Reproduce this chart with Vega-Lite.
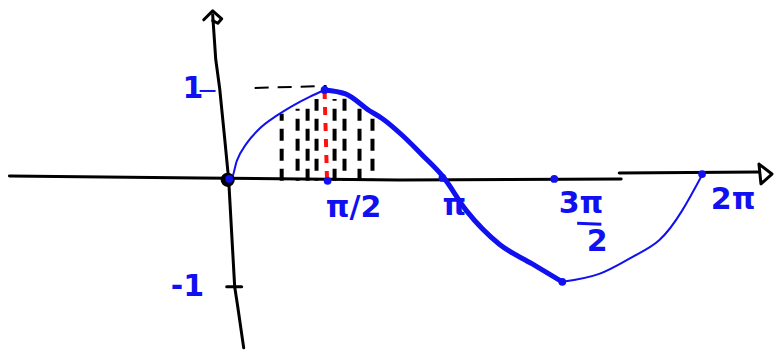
{
  "$schema": "https://vega.github.io/schema/vega-lite/v6.json",
  "width": 774,
  "height": 350,
  "autosize": {"type": "fit", "contains": "padding"},
  "padding": 0,
  "background": "white",
  "config": {"view": {"stroke": null}},
  "datasets": {
    "curve": [
      {"seg": "rise", "i": 0, "x": 0.0, "y": 0.0},
      {"seg": "rise", "i": 1, "x": 0.053, "y": 0.011},
      {"seg": "rise", "i": 2, "x": 0.119, "y": 0.202},
      {"seg": "rise", "i": 3, "x": 0.25, "y": 0.404},
      {"seg": "rise", "i": 4, "x": 0.422, "y": 0.573},
      {"seg": "rise", "i": 5, "x": 0.646, "y": 0.719},
      {"seg": "rise", "i": 6, "x": 0.856, "y": 0.831},
      {"seg": "rise", "i": 7, "x": 1.08, "y": 0.933},
      {"seg": "rise", "i": 8, "x": 1.278, "y": 1.011},
      {"seg": "fall", "i": 0, "x": 1.278, "y": 1.011},
      {"seg": "fall", "i": 1, "x": 1.555, "y": 0.966},
      {"seg": "fall", "i": 2, "x": 1.871, "y": 0.775},
      {"seg": "fall", "i": 3, "x": 2.042, "y": 0.685},
      {"seg": "fall", "i": 4, "x": 2.306, "y": 0.494},
      {"seg": "fall", "i": 5, "x": 2.569, "y": 0.27},
      {"seg": "fall", "i": 6, "x": 2.833, "y": 0.034},
      {"seg": "fall", "i": 7, "x": 3.149, "y": -0.36},
      {"seg": "fall", "i": 8, "x": 3.584, "y": -0.742},
      {"seg": "fall", "i": 9, "x": 4.018, "y": -0.966},
      {"seg": "fall", "i": 10, "x": 4.414, "y": -1.169},
      {"seg": "return", "i": 0, "x": 4.414, "y": -1.169},
      {"seg": "return", "i": 1, "x": 4.901, "y": -1.079},
      {"seg": "return", "i": 2, "x": 5.336, "y": -0.888},
      {"seg": "return", "i": 3, "x": 5.692, "y": -0.697},
      {"seg": "return", "i": 4, "x": 5.995, "y": -0.36},
      {"seg": "return", "i": 5, "x": 6.258, "y": 0.045}
    ],
    "axes": [
      {"part": "xaxis1", "i": 0, "x": -2.88, "y": 0.034},
      {"part": "xaxis1", "i": 1, "x": -0.369, "y": 0.011},
      {"part": "xaxis1", "i": 2, "x": 2.266, "y": -0.011},
      {"part": "xaxis1", "i": 3, "x": 5.191, "y": 0.0},
      {"part": "xaxis2", "i": 0, "x": 5.165, "y": 0.067},
      {"part": "xaxis2", "i": 1, "x": 7.009, "y": 0.079},
      {"part": "xarrow", "i": 0, "x": 7.009, "y": 0.169},
      {"part": "xarrow", "i": 1, "x": 7.18, "y": 0.056},
      {"part": "xarrow", "i": 2, "x": 7.035, "y": -0.056},
      {"part": "xarrow", "i": 3, "x": 7.009, "y": 0.169},
      {"part": "yaxis", "i": 0, "x": -0.198, "y": 1.865},
      {"part": "yaxis", "i": 1, "x": -0.158, "y": 1.36},
      {"part": "yaxis", "i": 2, "x": -0.105, "y": 1.022},
      {"part": "yaxis", "i": 3, "x": -0.04, "y": 0.461},
      {"part": "yaxis", "i": 4, "x": 0.013, "y": -0.011},
      {"part": "yaxis", "i": 5, "x": 0.092, "y": -1.225},
      {"part": "yaxis", "i": 6, "x": 0.132, "y": -1.449},
      {"part": "yaxis", "i": 7, "x": 0.211, "y": -1.92},
      {"part": "yarrow", "i": 0, "x": -0.316, "y": 1.809},
      {"part": "yarrow", "i": 1, "x": -0.198, "y": 1.91},
      {"part": "yarrow", "i": 2, "x": -0.079, "y": 1.82},
      {"part": "yarrow", "i": 3, "x": -0.13, "y": 1.77},
      {"part": "yarrow", "i": 4, "x": -0.198, "y": 1.8},
      {"part": "tickm1", "i": 0, "x": -0.013, "y": -1.225},
      {"part": "tickm1", "i": 1, "x": 0.184, "y": -1.225}
    ],
    "guide": [
      {"i": 0, "x": 0.356, "y": 1.034},
      {"i": 1, "x": 1.304, "y": 1.056}
    ],
    "redline": [
      {"i": 0, "x": 1.278, "y": 1.0},
      {"i": 1, "x": 1.31, "y": 0.0}
    ],
    "hatch": [
      {"col": "a", "x": 0.712, "y": -0.02, "top": 0.742},
      {"col": "b", "x": 0.922, "y": -0.02, "top": 0.798},
      {"col": "a", "x": 1.054, "y": -0.02, "top": 0.854},
      {"col": "b", "x": 1.172, "y": -0.02, "top": 0.91},
      {"col": "a", "x": 1.41, "y": -0.02, "top": 0.91},
      {"col": "b", "x": 1.541, "y": -0.02, "top": 0.966},
      {"col": "a", "x": 1.739, "y": -0.02, "top": 0.798},
      {"col": "b", "x": 1.91, "y": -0.02, "top": 0.764}
    ],
    "onetick": [
      {"i": 0, "x": -0.37, "y": 1.0},
      {"i": 1, "x": -0.16, "y": 1.0}
    ],
    "bluedots": [
      {"x": 1.318, "y": -0.022},
      {"x": 2.833, "y": 0.011},
      {"x": 4.308, "y": 0.0},
      {"x": 6.258, "y": 0.056},
      {"x": 1.278, "y": 1.011},
      {"x": 4.414, "y": -1.169},
      {"x": 0.02, "y": 0.0}
    ],
    "origin": [{"x": 0.0, "y": -0.01}],
    "labels": [
      {"text": "1", "x": -0.46, "y": 1.022},
      {"text": "-1", "x": -0.53, "y": -1.225},
      {"text": "π/2", "x": 1.66, "y": -0.326},
      {"text": "π", "x": 2.99, "y": -0.303},
      {"text": "3π", "x": 4.66, "y": -0.28},
      {"text": "2", "x": 4.875, "y": -0.72},
      {"text": "2π", "x": 6.667, "y": -0.236}
    ],
    "fracbar": [
      {"i": 0, "x": 4.61, "y": -0.505},
      {"i": 1, "x": 4.93, "y": -0.515}
    ]
  },
  "encoding": {
    "x": {"field": "x", "type": "quantitative", "axis": null, "scale": {"domain": [-3.004, 7.194], "nice": false, "zero": false}},
    "y": {"field": "y", "type": "quantitative", "axis": null, "scale": {"domain": [-1.899, 2.034], "nice": false, "zero": false}}
  },
  "layer": [
    {
      "data": {"name": "axes"},
      "mark": {"type": "line", "color": "black", "strokeWidth": 3, "strokeCap": "round", "strokeJoin": "round"},
      "encoding": {"detail": {"field": "part"}, "order": {"field": "i"}}
    },
    {
      "data": {"name": "hatch"},
      "transform": [{"filter": "datum.col === 'a'"}],
      "mark": {"type": "rule", "color": "black", "strokeWidth": 4, "strokeDash": [12, 8]},
      "encoding": {"y2": {"field": "top"}}
    },
    {
      "data": {"name": "hatch"},
      "transform": [{"filter": "datum.col === 'b'"}],
      "mark": {"type": "rule", "color": "black", "strokeWidth": 4, "strokeDash": [12, 8], "strokeDashOffset": 10},
      "encoding": {"y2": {"field": "top"}}
    },
    {
      "data": {"name": "guide"},
      "mark": {"type": "line", "color": "black", "strokeWidth": 2, "strokeDash": [14, 9]},
      "encoding": {"order": {"field": "i"}}
    },
    {
      "data": {"name": "redline"},
      "mark": {"type": "line", "color": "#ff1010", "strokeWidth": 4, "strokeDash": [8, 8]},
      "encoding": {"order": {"field": "i"}}
    },
    {
      "data": {"name": "curve"},
      "transform": [{"filter": "datum.seg === 'rise'"}],
      "mark": {"type": "line", "color": "#1010f0", "strokeWidth": 2, "strokeCap": "round", "interpolate": "monotone"},
      "encoding": {"order": {"field": "i"}}
    },
    {
      "data": {"name": "curve"},
      "transform": [{"filter": "datum.seg === 'return'"}],
      "mark": {"type": "line", "color": "#1010f0", "strokeWidth": 2, "strokeCap": "round", "interpolate": "natural"},
      "encoding": {"order": {"field": "i"}}
    },
    {
      "data": {"name": "curve"},
      "transform": [{"filter": "datum.seg === 'fall'"}],
      "mark": {"type": "line", "color": "#1010f0", "strokeWidth": 5, "strokeCap": "round", "interpolate": "monotone"},
      "encoding": {"order": {"field": "i"}}
    },
    {
      "data": {"name": "onetick"},
      "mark": {"type": "line", "color": "#1010f0", "strokeWidth": 2},
      "encoding": {"order": {"field": "i"}}
    },
    {
      "data": {"name": "fracbar"},
      "mark": {"type": "line", "color": "#1010f0", "strokeWidth": 3},
      "encoding": {"order": {"field": "i"}}
    },
    {
      "data": {"name": "origin"},
      "mark": {"type": "point", "filled": true, "color": "black", "size": 200, "opacity": 1}
    },
    {
      "data": {"name": "bluedots"},
      "mark": {"type": "point", "filled": true, "color": "#1010f0", "size": 60, "opacity": 1}
    },
    {
      "data": {"name": "labels"},
      "mark": {"type": "text", "color": "#1010f0", "fontSize": 30, "font": "DejaVu Sans", "fontWeight": "bold", "align": "center", "baseline": "middle"},
      "encoding": {"text": {"field": "text"}}
    }
  ]
}
